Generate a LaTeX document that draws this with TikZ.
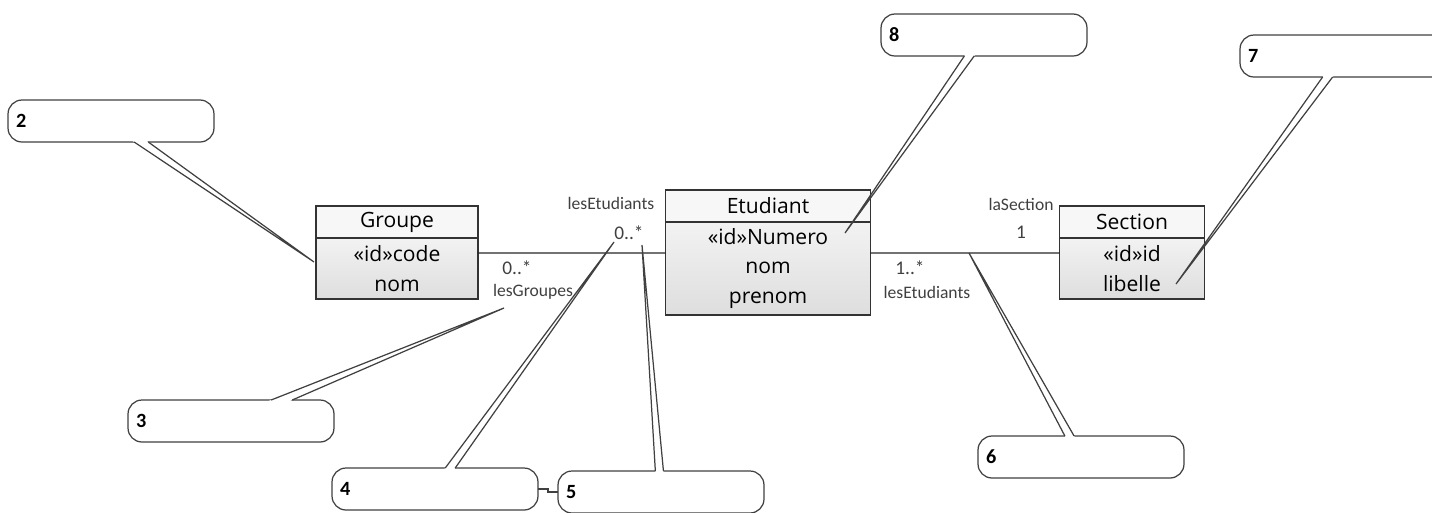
\documentclass[tikz,border=0pt]{standalone}
\usepackage{fontspec}
\usepackage{tikz}
\usetikzlibrary{positioning,calc}

\newfontfamily\opensans{Open Sans}
\newfontfamily\carlito{Carlito}
\newcommand\classe{\opensans\fontsize{12}{17}\selectfont}
\newcommand\roles{\carlito\fontsize{10}{12}\selectfont}
\newcommand\numero{\carlito\bfseries\fontsize{11.5}{13}\selectfont}

% queue d'une bulle : #1 bulle, #2 pointe
\newcommand\queueBulle[2]{%
  \path (#1) -- (#2) coordinate[pos=0] (#1-b);
  \path let \p1=(#1-b), \p2=(#2), \n1={2.3*veclen(\x2-\x1,\y2-\y1)/abs(\y2-\y1)} in
    ({\x1-\n1*1pt},\y1) coordinate (#1-bg) ({\x1+\n1*1pt},\y1) coordinate (#1-bd);
  \fill[white] ($(#1-bg)!-2pt!(#2)$) -- ($(#1-bg)!5pt!(#2)$) -- ($(#1-bd)!5pt!(#2)$) -- ($(#1-bd)!-2pt!(#2)$) -- cycle;
  \draw[trait] (#1-bg) -- (#2) -- (#1-bd);
}

\tikzset{
  entete/.style={draw=black!80, line width=0.9pt, fill=white!97!black, minimum height=0.64cm,
    inner sep=0pt, outer sep=0pt, font=\classe},
  corps/.style={draw=black!80, line width=0.9pt, top color=white!95!black, bottom color=white!87!black,
    inner sep=0pt, outer sep=0pt, align=center, font=\classe},
  role/.style={font=\roles, text=black!75, inner sep=1pt},
  multi/.style={role, font=\carlito\fontsize{11}{12}\selectfont},
  bulle/.style={draw=black!75, line width=0.7pt, rounded corners=0.28cm, fill=white,
    minimum height=0.84cm, text width=3.8cm, inner xsep=0.16cm, outer sep=0pt, align=left, font=\numero},
  trait/.style={draw=black!75, line width=0.7pt},
}

\begin{document}
\begin{tikzpicture}[x=0.02cm,y=-0.02cm]
\useasboundingbox (0,0) rectangle (1432,512);
\clip (0,0) rectangle (1432,512);

% classes
\node[entete, minimum width=3.24cm] (groupe) at (397,222) {Groupe};
\node[corps, minimum width=3.24cm, minimum height=1.22cm, below=0pt of groupe] (groupe-attr) {«id»code\\nom};

\node[entete, minimum width=4.1cm] (etudiant) at (768,206) {Etudiant};
\node[corps, minimum width=4.1cm, minimum height=1.86cm, below=0pt of etudiant] (etudiant-attr) {«id»Numero\\nom\\prenom};

\node[entete, minimum width=2.9cm] (section) at (1132,222) {Section};
\node[corps, minimum width=2.9cm, minimum height=1.22cm, below=0pt of section] (section-attr) {«id»id\\libelle};

% associations
\draw[trait, line width=0.8pt, black!85] ([yshift=0.31cm]groupe-attr.east) -- ([yshift=0.31cm]etudiant-attr.west);
\draw[trait, line width=0.8pt, black!85] ([yshift=0.31cm]etudiant-attr.east) -- ([yshift=0.31cm]section-attr.west);

\node[role] (r-etu1) at (611,203) {lesEtudiants};
\node[multi] (m-etu1) at (629,233) {0..*};
\node[multi] (m-grp) at (517,268) {0..*};
\node[role] (r-grp) at (533,292) {lesGroupes};
\node[role] (r-sec) at (1021,204) {laSection};
\node[multi] (m-sec) at (1021,232) {1};
\node[multi] (m-etu2) at (910,268) {1..*};
\node[role] (r-etu2) at (927,292) {lesEtudiants};

% bulles
\node[bulle] (b2) at (111,121) {2};
\node[bulle] (b3) at (231,421) {3};
\node[bulle] (b4) at (435,489) {4};
\node[bulle] (b5) at (661,492) {5};
\node[bulle] (b6) at (1081,457) {6};
\node[bulle] (b7) at (1343,56) {7};
\node[bulle] (b8) at (984,35) {8};

\coordinate (p2) at (314,262);
\coordinate (p3) at (504,308);
\coordinate (p4) at (614,242);
\coordinate (p5) at (642,245);
\coordinate (p6) at (969,253);
\coordinate (p7) at (1176,284);
\coordinate (p8) at (845,233);

\foreach \i in {2,...,8} {\queueBulle{b\i}{p\i}}

\draw[trait] (b4.east) -- ++(10,0) |- (b5.west);
\end{tikzpicture}
\end{document}
